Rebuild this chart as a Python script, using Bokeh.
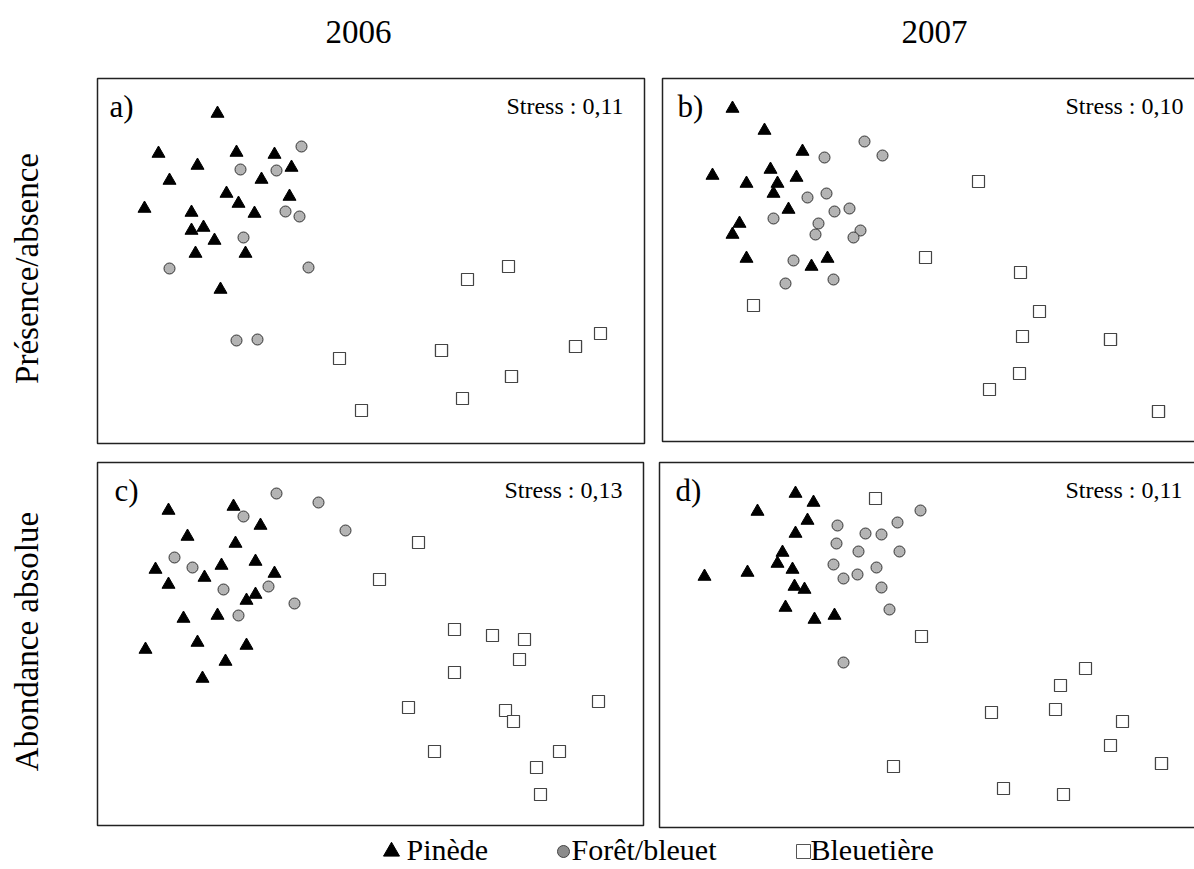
from math import pi
from bokeh.plotting import figure
from bokeh.models import Range1d
from bokeh.core.properties import value
from bokeh.embed import file_html
from bokeh.resources import INLINE

# ---------------- texts ----------------
years = ["2006", "2007"]
row_labels = ["Présence/absence", "Abondance absolue"]
panel_labels = ["a)", "b)", "c)", "d)"]
stress_labels = ["Stress : 0,11", "Stress : 0,10", "Stress : 0,13", "Stress : 0,11"]
legend_labels = ["Pinède", "Forêt/bleuet", "Bleuetière"]

# ---------------- NMDS scores (panel units, axis 1 / axis 2) ----------------
# a) 2006, presence/absence
a_pin_x = [120, 61, 100, 139, 177, 194, 72, 164, 129, 192, 141, 47, 94, 157, 94, 106, 117, 98, 148, 123]
a_pin_y = [330, 290, 278, 291, 289, 276, 263, 264, 250, 247, 240, 235, 231, 230, 213, 216, 203, 190, 190, 154]
a_for_x = [204, 143, 179, 188, 202, 146, 72, 211, 139, 160]
a_for_y = [297, 274, 273, 232, 227, 206, 175, 176, 103, 104]
a_ble_x = [411, 370, 503, 478, 478, 344, 344, 242, 414, 414, 365, 264]
a_ble_y = [177, 164, 110, 97, 97, 93, 93, 85, 67, 67, 45, 33]

# b) 2007, presence/absence
b_pin_x = [70, 102, 140, 50, 108, 84, 115, 134, 111, 126, 77, 70, 84, 149, 165]
b_pin_y = [333, 311, 290, 266, 272, 258, 258, 264, 248, 232, 218, 207, 183, 175, 183]
b_for_x = [202, 220, 162, 164, 145, 187, 172, 111, 156, 198, 191, 153, 131, 171, 123]
b_for_y = [300, 286, 284, 248, 244, 233, 230, 223, 218, 211, 204, 207, 181, 162, 158]
b_ble_x = [316, 263, 358, 377, 360, 448, 448, 357, 327, 496, 496, 91]
b_ble_y = [260, 184, 169, 130, 105, 102, 102, 68, 52, 30, 30, 136]

# c) 2006, absolute abundance
c_pin_x = [71, 136, 163, 90, 138, 158, 124, 58, 177, 107, 71, 158, 149, 86, 120, 100, 149, 48, 128, 105]
c_pin_y = [315, 319, 300, 289, 282, 264, 260, 256, 252, 248, 241, 231, 225, 207, 210, 183, 180, 176, 164, 147]
c_for_x = [179, 221, 146, 248, 77, 95, 126, 171, 197, 141]
c_for_y = [332, 323, 309, 295, 268, 258, 236, 239, 222, 210]
c_ble_x = [321, 282, 357, 395, 427, 422, 357, 311, 501, 408, 416, 337, 462, 439, 443]
c_ble_y = [283, 246, 196, 190, 186, 166, 153, 118, 124, 115, 104, 74, 74, 58, 31]

# d) 2007, absolute abundance
d_pin_x = [136, 154, 98, 148, 136, 123, 118, 88, 45, 133, 135, 145, 126, 155, 175]
d_pin_y = [334, 325, 316, 307, 294, 275, 264, 255, 251, 258, 241, 238, 220, 208, 212]
d_for_x = [261, 238, 178, 206, 222, 177, 199, 240, 174, 217, 198, 184, 222, 230, 184]
d_for_y = [317, 305, 302, 294, 293, 284, 276, 276, 263, 260, 253, 249, 240, 218, 165]
d_ble_x = [216, 262, 426, 401, 332, 396, 463, 451, 502, 502, 234, 344, 404]
d_ble_y = [329, 191, 159, 142, 115, 118, 106, 82, 64, 64, 61, 39, 33]

W, H = 1194, 869
FONT = value("Liberation Serif")

p = figure(width=W, height=H, x_range=Range1d(0, W), y_range=Range1d(H, 0),
           min_border=0, toolbar_location=None, output_backend="svg",
           x_axis_type=None, y_axis_type=None, outline_line_color=None)
p.grid.visible = False
p.background_fill_color = "white"
p.border_fill_color = "white"

# panel geometry on the page: (left, top, width, height)
panels = [
    ("a", 97, 78, 547, 365, (a_pin_x, a_pin_y), (a_for_x, a_for_y), (a_ble_x, a_ble_y)),
    ("b", 662, 78, 540, 363, (b_pin_x, b_pin_y), (b_for_x, b_for_y), (b_ble_x, b_ble_y)),
    ("c", 97, 462, 546, 363, (c_pin_x, c_pin_y), (c_for_x, c_for_y), (c_ble_x, c_ble_y)),
    ("d", 659, 462, 545, 365, (d_pin_x, d_pin_y), (d_for_x, d_for_y), (d_ble_x, d_ble_y)),
]

xr, yr = {}, {}
for name, left, top, w, h, *_ in panels:
    xr[name] = Range1d(-left, W - left)
    yr[name] = Range1d(top + h - H, top + h)
p.extra_x_ranges = xr
p.extra_y_ranges = yr

label_x = [109, 677, 114, 675]
stress_right = [623, 1183, 622, 1182]
for i, (name, left, top, w, h, pin, forest, blue) in enumerate(panels):
    kw = dict(x_range_name=name, y_range_name=name)
    p.quad(left=0, right=w, bottom=0, top=h, fill_color=None,
           line_color="#222222", line_width=1.5, **kw)
    p.scatter(pin[0], pin[1], marker="triangle", size=13,
              fill_color="black", line_color="black", **kw)
    p.scatter(forest[0], forest[1], marker="circle", size=11,
              fill_color="#b4b4b4", line_color="#333333", line_width=1, **kw)
    p.scatter(blue[0], blue[1], marker="square", size=12,
              fill_color="white", line_color="#444444", line_width=1.2, **kw)
    # panel letter and stress
    p.text(x=[label_x[i]], y=[top + 28], text=[panel_labels[i]], text_font=FONT,
           text_font_size="31px", text_color="black",
           text_align="left", text_baseline="alphabetic")
    p.text(x=[stress_right[i]], y=[top + 27], text=[stress_labels[i]],
           text_font=FONT, text_font_size="24px", text_color="black",
           text_align="right", text_baseline="alphabetic")

# column titles
p.text(x=[358, 934], y=[31, 31], text=years, text_font=FONT, text_font_size="33px",
       text_color="black", text_align="center", text_baseline="alphabetic")

# row titles
p.text(x=[26, 26], y=[268, 641], text=row_labels, text_font=FONT, text_font_size="33px",
       text_color="black", text_align="center", text_baseline="middle", angle=pi / 2)

# legend
p.scatter([391], [851], marker="triangle", size=16, fill_color="black", line_color="black")
p.scatter([563], [851], marker="circle", size=12, fill_color="#8c8c8c", line_color="#444444")
p.scatter([803], [851], marker="square", size=14, fill_color="white", line_color="#555555", line_width=1)
p.text(x=[406, 571, 810], y=[849, 849, 849], text=legend_labels, text_font=FONT,
       text_font_size="30px", text_color="black", text_align="left", text_baseline="alphabetic")

open("out.html", "w").write(file_html(p, INLINE))
